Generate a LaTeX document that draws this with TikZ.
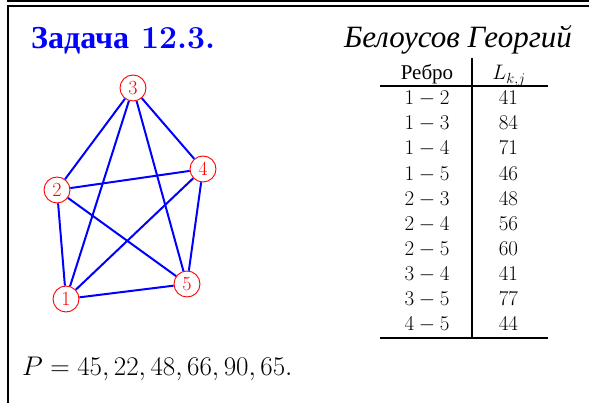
\documentclass[tikz,border=0pt]{standalone}
\usepackage{fix-cm}
\usepackage{amsmath}
\usepackage{fontspec}
\newfontfamily\cyr{Liberation Serif}
\usepackage{tikz}
\usetikzlibrary{positioning}

\begin{document}
\begin{tikzpicture}[x=1pt,y=-1pt,
    vtx/.style={circle,draw=red,text=red,minimum size=26pt,inner sep=0pt,
                line width=0.9pt,font=\fontsize{20}{24}\selectfont},
    edg/.style={blue,line width=2pt},
    cell/.style={anchor=base,inner sep=0pt,font=\fontsize{21}{25}\selectfont},
    frm/.style={line width=2pt},
    rul/.style={line width=2.2pt}]
    \useasboundingbox (0,0) rectangle (589,403);
    % frame
    \draw[frm] (7,1) -- (589,1);
    \draw[frm] (7,6) -- (589,6);
    \draw[frm] (7.7,0) -- (7.7,2);
    \draw[frm] (7.7,5) -- (7.7,403);
    % headings
    \node[anchor=base west,inner sep=0pt,text=blue,
          font=\fontsize{32}{36}\selectfont\bfseries] (title) at (31,49)
          {{\cyr Задача}\ 12.3.};
    \node[anchor=base east,inner sep=0pt,
          font=\fontsize{31}{36}\selectfont\cyr\itshape] (name) at (572,48)
          {Белоусов Георгий};
    % graph
    \node[vtx] (v1) at (66,299) {1};
    \node[vtx] (v2) at (57,190) {2};
    \node[vtx] (v3) at (133,88) {3};
    \node[vtx] (v4) at (203,169) {4};
    \node[vtx] (v5) at (187,284) {5};
    \foreach \a/\b in {1/2,1/3,1/4,1/5,2/3,2/4,2/5,3/4,3/5,4/5}
      \draw[edg] (v\a) -- (v\b);
    % table
    \node[cell] (hE) at (427,80) {\cyr Ребро};
    \node[cell] (hL) at (509,80) {$L_{k,j}$};
    \foreach \a/\b/\l [count=\i] in {1/2/41,1/3/84,1/4/71,1/5/46,2/3/48,
                                      2/4/56,2/5/60,3/4/41,3/5/77,4/5/44}
    {
      \node[cell] (e\i) at (427,{104.7+25.11*(\i-1)}) {$\a-\b$};
      \node[cell] (l\i) at (508.5,{104.7+25.11*(\i-1)}) {$\l$};
    }
    \draw[rul] (380,86) -- (548,86);
    \draw[rul] (380,338) -- (548,338);
    \draw[rul] (472,58) -- (472,338);
    % answer
    \node[anchor=base west,inner sep=0pt,font=\fontsize{27}{32}\selectfont]
      (perm) at (22,375) {$P=45,22,48,66,90,65.$};
  \end{tikzpicture}
\end{document}
